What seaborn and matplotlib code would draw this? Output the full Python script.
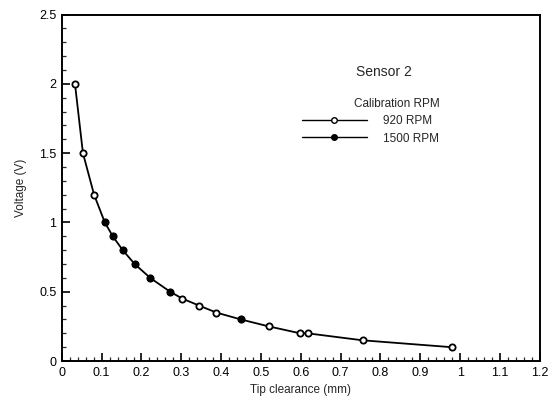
import numpy as np
import pandas as pd
import matplotlib
matplotlib.use("Agg")
import matplotlib.pyplot as plt
from matplotlib.ticker import MultipleLocator, FuncFormatter
import seaborn as sns

# %%
# data
clear_920 = [0.033, 0.053, 0.081, 0.108, 0.128, 0.153, 0.183, 0.222, 0.272,
             0.303, 0.345, 0.388, 0.45, 0.52, 0.599, 0.618, 0.755, 0.98]
volt_920 = [2.0, 1.5, 1.2, 1.0, 0.9, 0.8, 0.7, 0.6, 0.5,
            0.45, 0.4, 0.35, 0.3, 0.25, 0.2, 0.2, 0.15, 0.1]

clear_1500 = [0.108, 0.128, 0.153, 0.183, 0.222, 0.272, 0.45]
volt_1500 = [1.0, 0.9, 0.8, 0.7, 0.6, 0.5, 0.3]

df920 = pd.DataFrame({"clearance": clear_920, "voltage": volt_920})
df1500 = pd.DataFrame({"clearance": clear_1500, "voltage": volt_1500})

# %%
sns.set_style("ticks")
plt.rcParams["font.family"] = ["Liberation Sans", "DejaVu Sans"]

fig = plt.figure(figsize=(5.57, 4.03), dpi=100)
ax = fig.add_axes([0.111, 0.104, 0.858, 0.860])

sns.lineplot(data=df920, x="clearance", y="voltage", sort=False, ax=ax,
             color="black", linewidth=1.3, marker="o", markersize=4.5,
             markerfacecolor="white", markeredgecolor="black",
             markeredgewidth=1.3, label="920 RPM")
sns.lineplot(data=df1500, x="clearance", y="voltage", sort=False, ax=ax,
             color="black", linewidth=0, marker="o", markersize=4.5,
             markerfacecolor="black", markeredgecolor="black",
             label="1500 RPM")

ax.set_xlim(0, 1.2)
ax.set_ylim(0, 2.5)
ax.xaxis.set_major_locator(MultipleLocator(0.1))
ax.xaxis.set_minor_locator(MultipleLocator(0.02))
ax.yaxis.set_major_locator(MultipleLocator(0.5))
ax.yaxis.set_minor_locator(MultipleLocator(0.1))
fmt = FuncFormatter(lambda v, p: "%g" % round(v, 2))
ax.xaxis.set_major_formatter(fmt)
ax.yaxis.set_major_formatter(fmt)
ax.tick_params(which="major", direction="in", length=6, width=1.2,
               labelsize=9, colors="black", pad=4)
ax.tick_params(which="minor", direction="in", length=3, width=0.9)
ax.tick_params(top=False, right=False, which="both")
for s in ax.spines.values():
    s.set_linewidth(1.4)
    s.set_color("black")

ax.set_xlabel("Tip clearance (mm)", fontsize=8.5, labelpad=4)
ax.set_ylabel("Voltage (V)", fontsize=8.5, labelpad=9)

# legend
h920 = plt.Line2D([], [], color="black", linewidth=1, marker="o", markersize=4,
                  markerfacecolor="white", markeredgecolor="black")
h1500 = plt.Line2D([], [], color="black", linewidth=1, marker="o", markersize=4,
                   markerfacecolor="black", markeredgecolor="black")
leg = ax.legend([h920, h1500], ["920 RPM", "1500 RPM"], title="Calibration RPM",
                loc="upper left", bbox_to_anchor=(0.48, 0.79), frameon=False,
                fontsize=8.5, title_fontsize=8.5, handlelength=5.5,
                handletextpad=1.4, labelspacing=0.45)
leg._legend_box.align = "right"
ax.text(0.675, 0.835, "Sensor 2", transform=ax.transAxes, ha="center",
        va="center", fontsize=10)

fig.savefig("out.png", dpi=100)
